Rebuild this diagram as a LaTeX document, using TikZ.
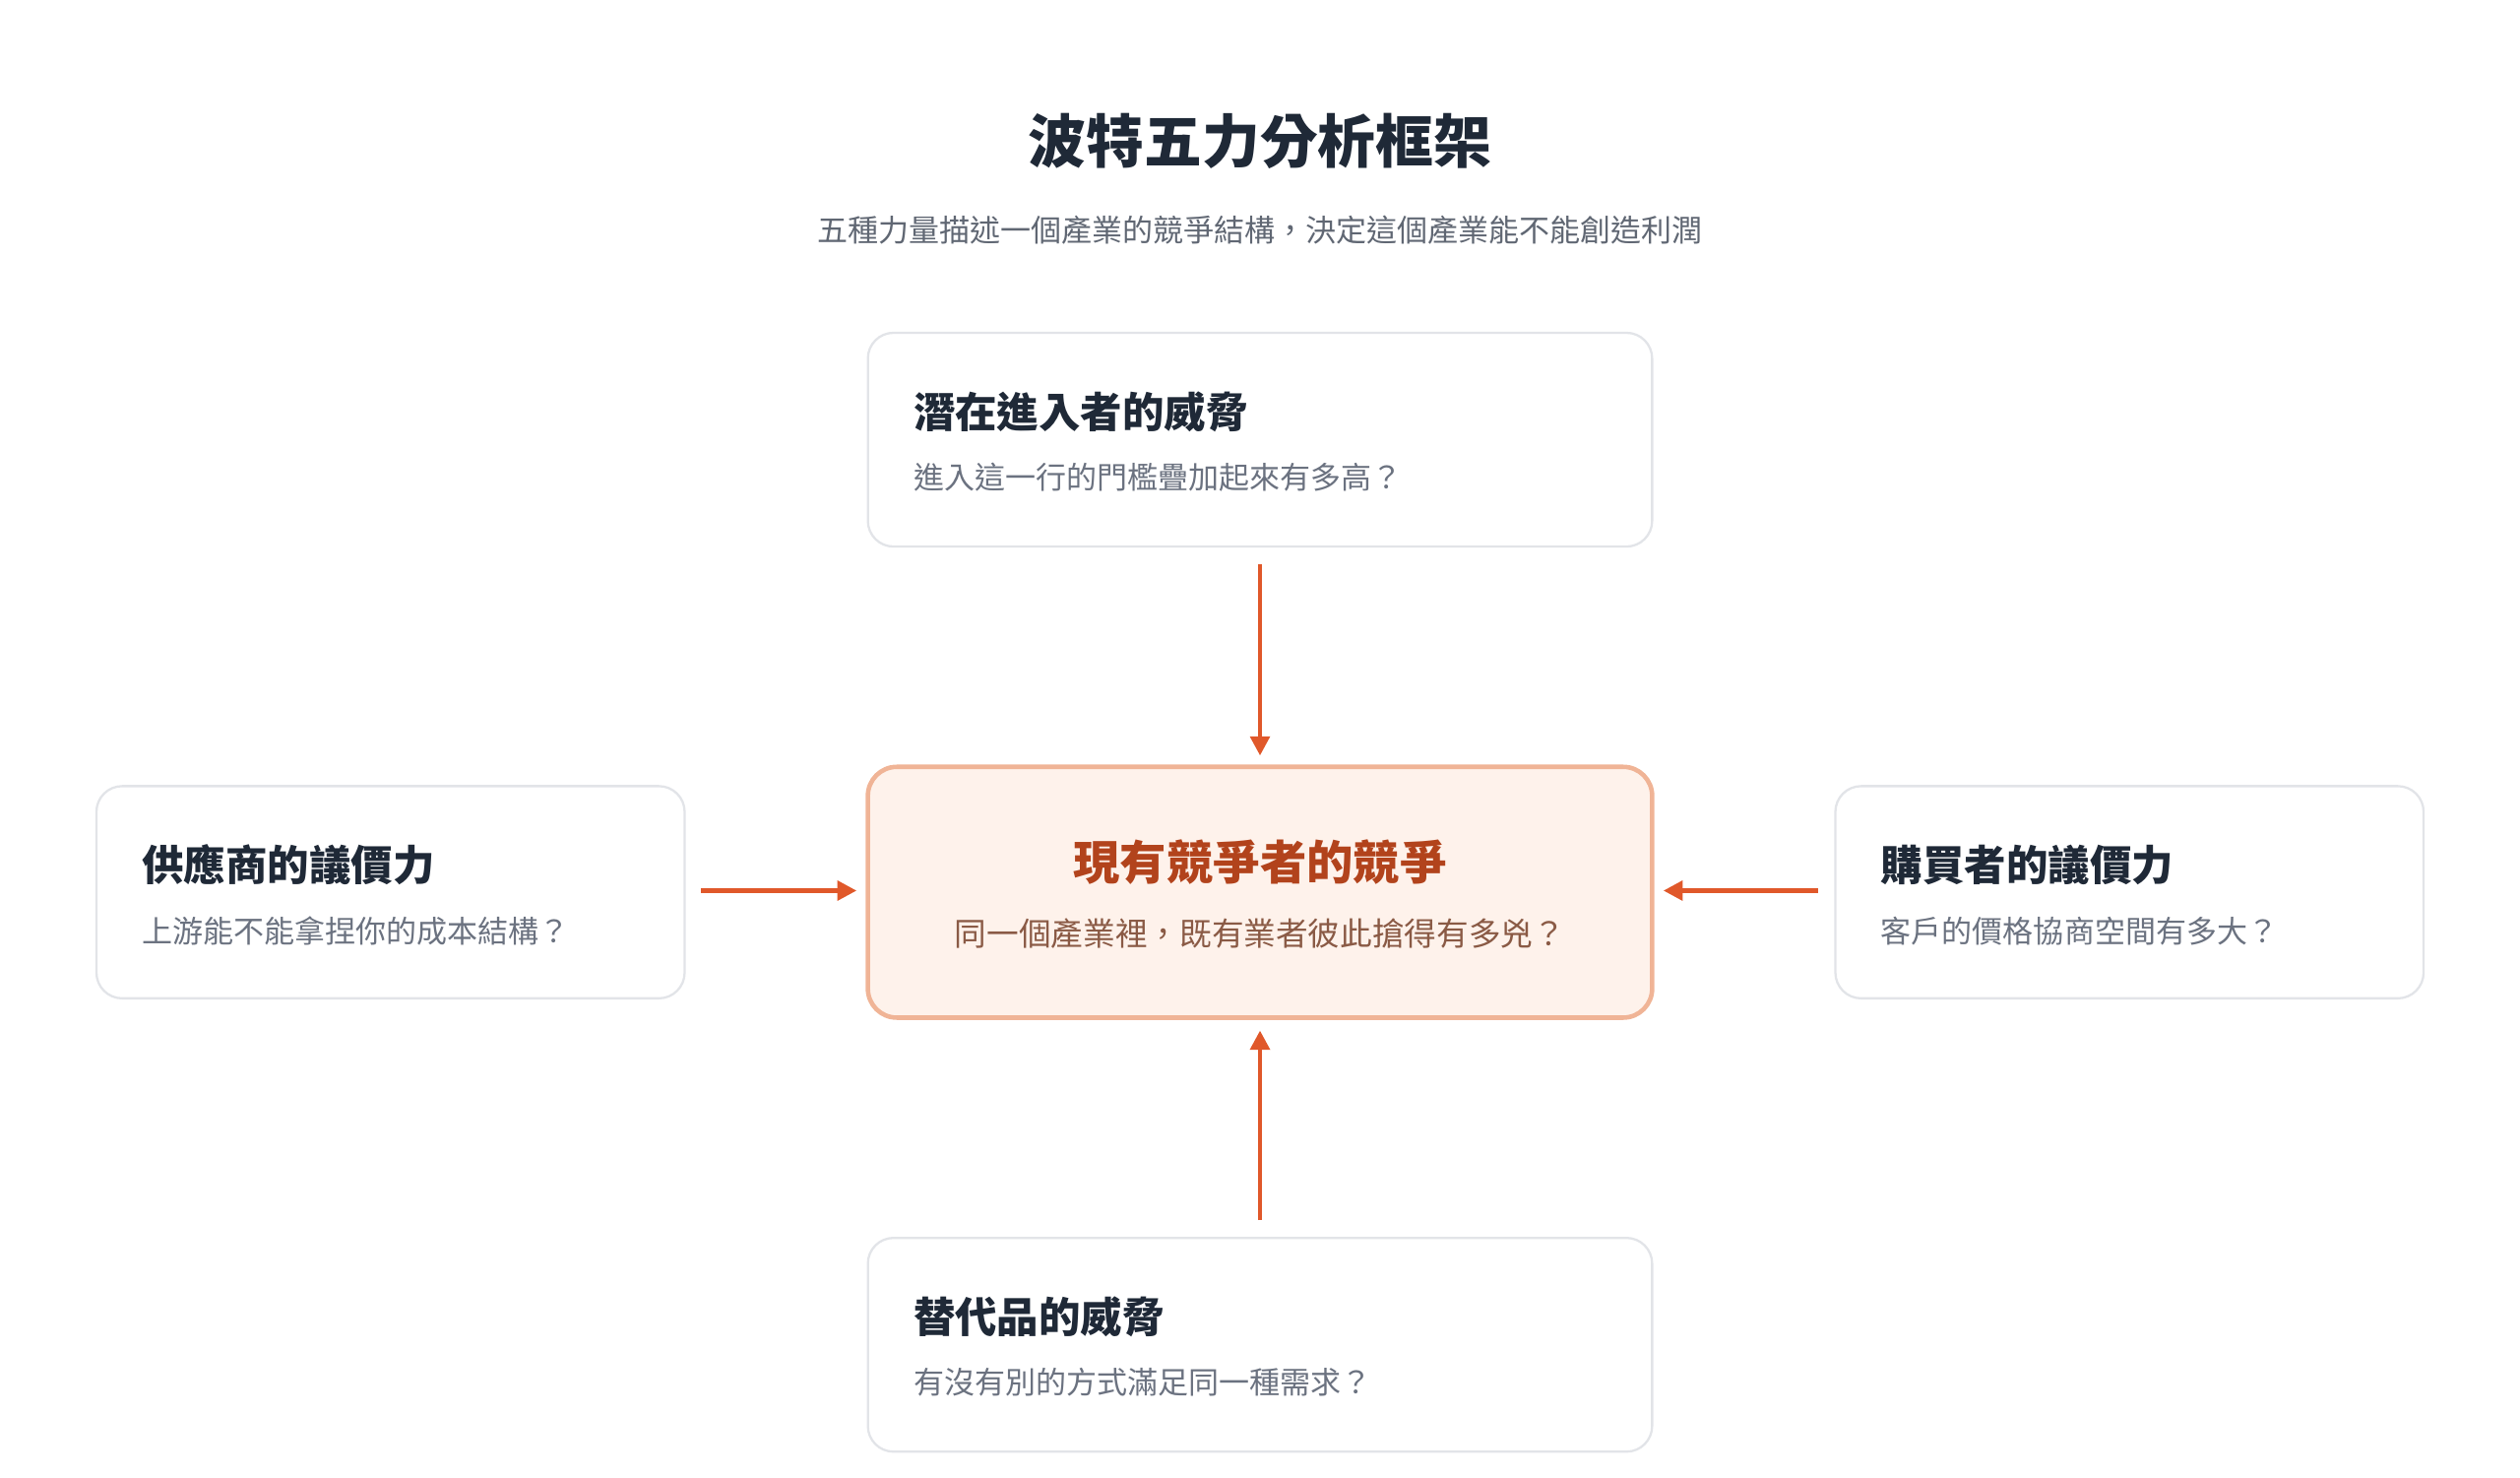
\documentclass[tikz,border=0pt]{standalone}
\usepackage{fontspec}
\setmainfont{Noto Sans CJK TC}
\newfontfamily\cjkb{Noto Sans CJK TC}[FakeBold=0]
\usetikzlibrary{arrows.meta}
\definecolor{ink}{HTML}{1F2937}
\definecolor{sub}{HTML}{6B7280}
\definecolor{bd}{HTML}{E2E4E8}
\definecolor{cfill}{HTML}{FEF2EB}
\definecolor{cbd}{HTML}{F0B496}
\definecolor{ctitle}{HTML}{B2431C}
\definecolor{csub}{HTML}{8A5A45}
\definecolor{arr}{HTML}{E0582A}
\begin{document}
\begin{tikzpicture}[x=0.5pt,y=-0.5pt,
 box/.style={draw=bd,line width=0.7pt,rounded corners=8pt,fill=white},
 ttl/.style={anchor=west,font=\fontsize{13}{15}\selectfont\bfseries,text=ink,inner sep=0},
 dsc/.style={anchor=west,font=\fontsize{9.5}{11}\selectfont,text=sub,inner sep=0},
 ar/.style={draw=arr,line width=1.4pt,-{Triangle[length=6pt,width=6pt]}}]
\useasboundingbox (0,0) rectangle (1568,919);
\node[font=\fontsize{18}{20}\selectfont\bfseries,text=ink] (title) at (784,88) {波特五力分析框架};
\node[font=\fontsize{9.5}{11}\selectfont,text=sub!90!black] (subt) at (784,143) {五種力量描述一個產業的競爭結構，決定這個產業能不能創造利潤};
% boxes
\draw[box] (540,207) rectangle (1028,340);
\coordinate (topB) at (784,340);
\node[ttl] (t1) at (568,256) {潛在進入者的威脅};
\node[dsc] (d1) at (568,297) {進入這一行的門檻疊加起來有多高？};
\draw[box] (540,770) rectangle (1028,903);
\coordinate (botT) at (784,770);
\node[ttl] (t2) at (568,819) {替代品的威脅};
\node[dsc] (d2) at (568,860) {有沒有別的方式滿足同一種需求？};
\draw[box] (60,489) rectangle (426,621);
\node[ttl] (t3) at (88,538) {供應商的議價力};
\node[dsc] (d3) at (88,579) {上游能不能拿捏你的成本結構？};
\draw[box] (1142,489) rectangle (1508,621);
\node[ttl] (t4) at (1170,538) {購買者的議價力};
\node[dsc] (d4) at (1170,579) {客戶的價格協商空間有多大？};
\draw[draw=cbd,fill=cfill,line width=1.4pt,rounded corners=9pt] (540,477) rectangle (1028,633);
\node[font=\fontsize{14.5}{16}\selectfont\bfseries,text=ctitle] (ct) at (784,536) {現有競爭者的競爭};
\node[font=\fontsize{10}{12}\selectfont,text=csub] (cd) at (784,581) {同一個產業裡，既有業者彼此搶得有多兇？};
% arrows
\coordinate (a1s) at (784,351); \coordinate (a1e) at (784,470);
\coordinate (a2s) at (784,759); \coordinate (a2e) at (784,641);
\coordinate (a3s) at (436,554); \coordinate (a3e) at (533,554);
\coordinate (a4s) at (1131,554); \coordinate (a4e) at (1035,554);
\draw[ar] (a1s) -- (a1e);
\draw[ar] (a2s) -- (a2e);
\draw[ar] (a3s) -- (a3e);
\draw[ar] (a4s) -- (a4e);
\end{tikzpicture}
\end{document}
